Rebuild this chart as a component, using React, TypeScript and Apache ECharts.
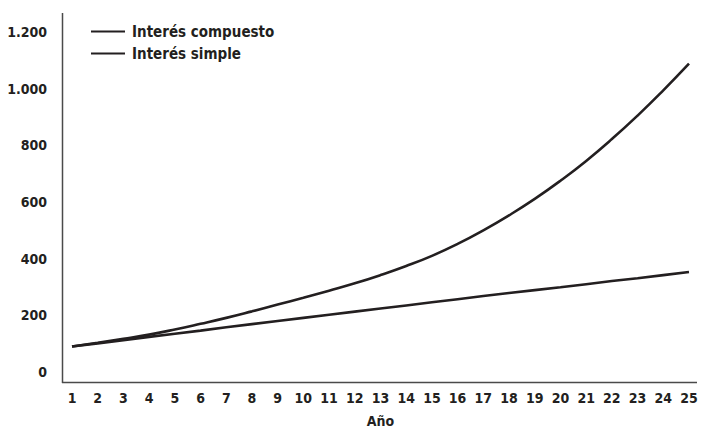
import React, { useEffect, useRef } from "react";
import * as echarts from "echarts";

const years = ["1","2","3","4","5","6","7","8","9","10","11","12","13","14","15","16","17","18","19","20","21","22","23","24","25"];
const compuesto = [90,103,117,132,150,170,191,214,238,262,287,313,342,374,410,452,500,553,611,675,745,822,905,994,1088];
const simple = [90,101,112,124,135,146,158,169,180,191,202,213,224,235,246,257,268,279,289,299,310,321,331,342,353];
const yTicks = { min: 0, max: 1200, interval: 200 };
const seriesNames = ["Interés compuesto", "Interés simple"];

const INK = "#231f20";
const FONT = "'DejaVu Sans Condensed', 'DejaVu Sans', sans-serif";

export default function App() {
  const ref = useRef<HTMLDivElement>(null);
  useEffect(() => {
    if (!ref.current) return;
    const chart = echarts.init(ref.current, null, { renderer: "svg" });
    chart.setOption({
      animation: false,
      backgroundColor: "#ffffff",
      grid: { left: 72, right: 13, top: 32, bottom: 53, containLabel: false },
      legend: {
        orient: "vertical",
        left: 86,
        top: 19,
        itemWidth: 34,
        itemHeight: 2,
        itemGap: 7,
        icon: "rect",
        data: seriesNames,
        textStyle: { fontFamily: FONT, fontWeight: "bold", fontSize: 15, lineHeight: 15, color: INK, padding: [0, 0, 0, 2] },
      },
      xAxis: {
        type: "category",
        data: years,
        boundaryGap: false,
        axisLine: { show: false },
        axisTick: { show: false },
        axisLabel: { interval: 0, margin: 19, fontFamily: FONT, fontWeight: "bold", fontSize: 14, lineHeight: 14, color: INK },
        name: "Año",
        nameLocation: "middle",
        nameGap: 42,
        nameTextStyle: { fontFamily: FONT, fontWeight: "bold", fontSize: 14, color: INK },
      },
      yAxis: {
        type: "value",
        min: yTicks.min,
        max: yTicks.max,
        interval: yTicks.interval,
        axisLine: { show: false },
        axisTick: { show: false },
        splitLine: { show: false },
        axisLabel: {
          margin: 25,
          fontFamily: FONT,
          fontWeight: "bold",
          fontSize: 14,
          color: INK,
          formatter: (v: number) => v.toString().replace(/\B(?=(\d{3})+(?!\d))/g, "."),
        },
      },
      graphic: [
        { type: "line", shape: { x1: 62.5, y1: 13, x2: 62.5, y2: 383 }, style: { stroke: "#4a4a4a", lineWidth: 1.5 }, silent: true },
        { type: "line", shape: { x1: 62, y1: 382.5, x2: 697, y2: 382.5 }, style: { stroke: "#4a4a4a", lineWidth: 1.5 }, silent: true },
      ],
      series: [
        { name: seriesNames[0], type: "line", data: compuesto, showSymbol: false, smooth: true, lineStyle: { color: INK, width: 2.6 }, itemStyle: { color: INK } },
        { name: seriesNames[1], type: "line", data: simple, showSymbol: false, lineStyle: { color: INK, width: 2.6 }, itemStyle: { color: INK } },
      ],
    });
    return () => chart.dispose();
  }, []);
  return <div ref={ref} style={{ width: 702, height: 433, position: "absolute", left: 0, top: 0 }} />;
}
